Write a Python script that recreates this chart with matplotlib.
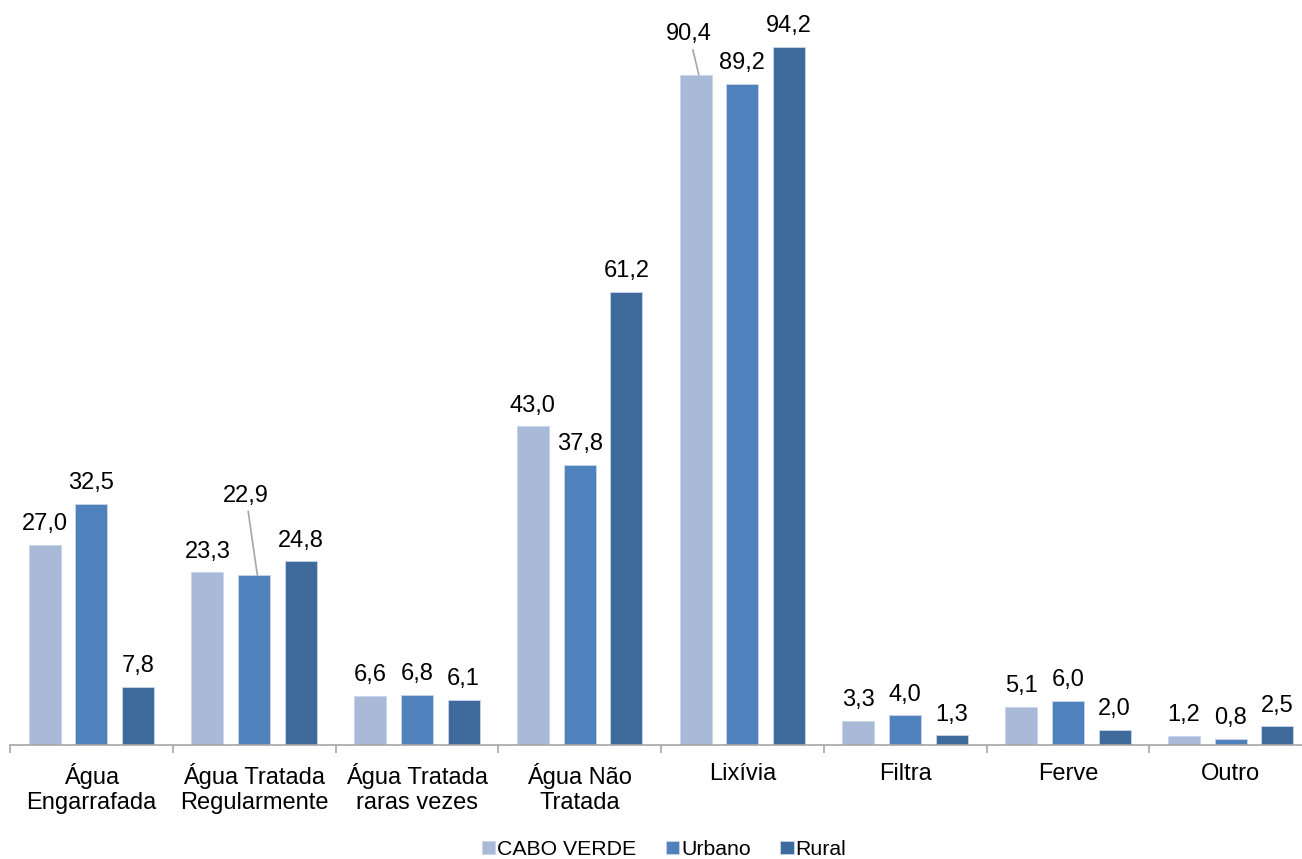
import matplotlib.pyplot as plt
import numpy as np

plt.rcParams['font.family'] = ['Liberation Sans', 'DejaVu Sans']

categories = ['Água\nEngarrafada', 'Água Tratada\nRegularmente', 'Água Tratada\nraras vezes',
              'Água Não\nTratada', 'Lixívia', 'Filtra', 'Ferve', 'Outro']
cabo_verde = [27.0, 23.3, 6.6, 43.0, 90.4, 3.3, 5.1, 1.2]
urbano = [32.5, 22.9, 6.8, 37.8, 89.2, 4.0, 6.0, 0.8]
rural = [7.8, 24.8, 6.1, 61.2, 94.2, 1.3, 2.0, 2.5]

series = [('CABO VERDE', cabo_verde, '#A9BAD8'),
          ('Urbano', urbano, '#4F81BD'),
          ('Rural', rural, '#3E6A9C')]

fig = plt.figure(figsize=(13.02, 8.59), dpi=100)
# the plot area runs a little past the right edge of the figure
ax = fig.add_axes([10 / 1302, 114 / 859, 1302 / 1302, 741 / 859])

x = np.arange(len(categories))
width = 0.197
step = 0.287

# labels that sit off their bar and get a leader line: (series, category) -> (dx, dy) in data units
moved = {(0, 4): (-0.04, 4.0), (1, 1): (-0.05, 9.2)}

for i, (name, vals, color) in enumerate(series):
    pos = x + (i - 1) * step
    ax.bar(pos, vals, width, color=color, edgecolor='#C9D6EA', linewidth=0.6, label=name)
    for j, (p, v) in enumerate(zip(pos, vals)):
        txt = f'{v:.1f}'.replace('.', ',')
        if (i, j) in moved:
            dx, dy = moved[(i, j)]
            ax.annotate(txt, xy=(p + 0.02, v), xytext=(p + dx, v + dy), ha='center', va='bottom',
                        fontsize=17,
                        arrowprops=dict(arrowstyle='-', color='#A6A6A6', lw=1.2,
                                        shrinkA=1, shrinkB=0))
        else:
            ax.annotate(txt, xy=(p, v), xytext=(0, 7), textcoords='offset points',
                        ha='center', va='bottom', fontsize=17)

ax.set_xlim(-0.5, len(categories) - 0.5)
ax.set_ylim(0, 100)
ax.set_yticks([])
for s in ['top', 'right', 'left']:
    ax.spines[s].set_visible(False)
ax.spines['bottom'].set_color('#A6A6A6')
ax.spines['bottom'].set_linewidth(1.2)

ax.set_xticks(np.arange(-0.5, len(categories) + 0.5, 1))
ax.set_xticklabels([])
ax.tick_params(axis='x', length=6, color='#A6A6A6', width=1.2)
ax.set_xticks(x, minor=True)
ax.set_xticklabels(categories, minor=True, fontsize=17, linespacing=1.15)
ax.tick_params(axis='x', which='minor', length=0, pad=13)

fig.legend(loc='center', bbox_to_anchor=(0.51, 0.011), ncol=3, frameon=False,
           fontsize=15.3, handlelength=0.62, handleheight=0.62, handletextpad=0.1,
           columnspacing=1.4, borderpad=0)

fig.savefig('out.png')
